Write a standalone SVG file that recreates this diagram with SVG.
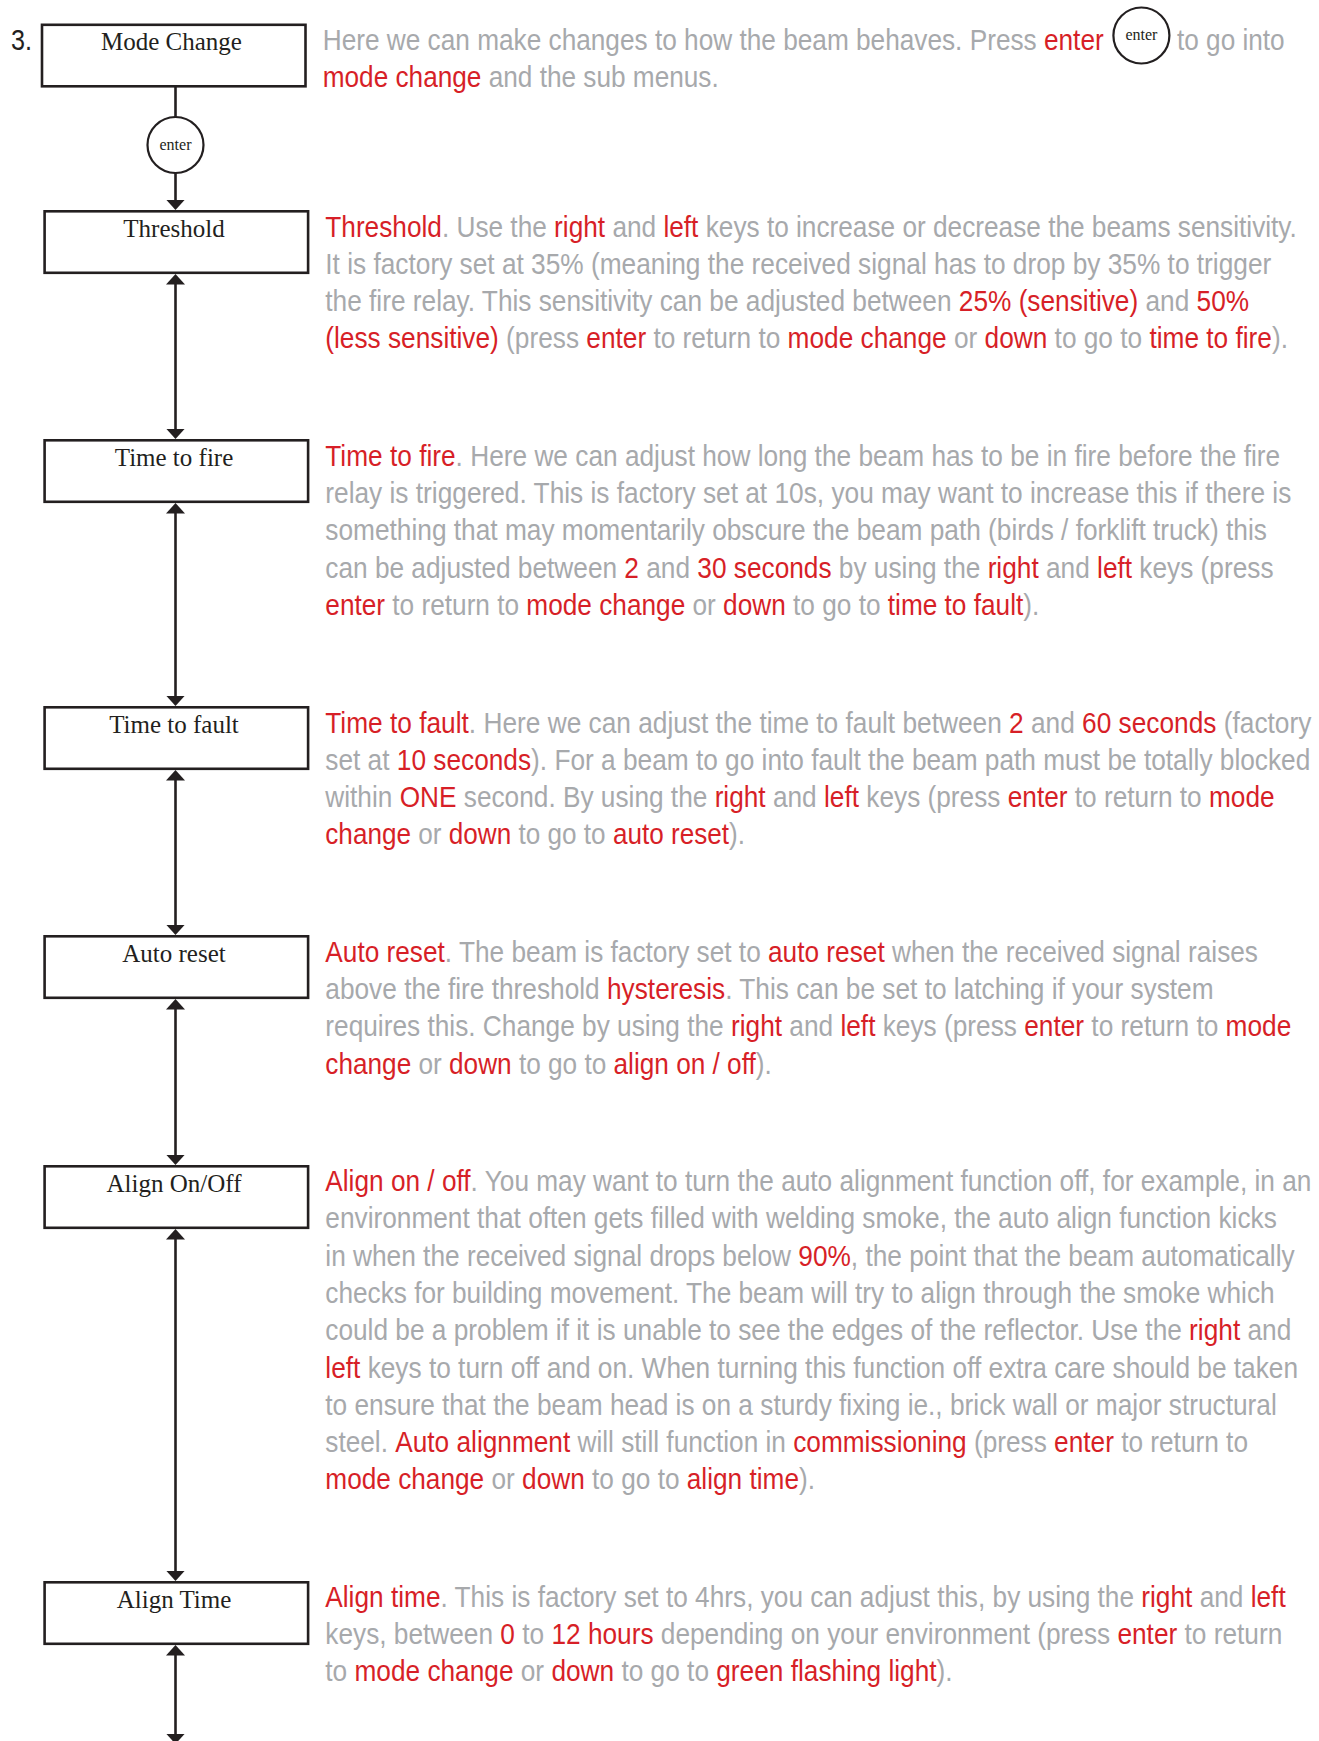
<svg xmlns="http://www.w3.org/2000/svg" width="1319" height="1741" viewBox="0 0 1319 1741">
<defs>
<style>
.box{fill:#fff;stroke:#231f20;stroke-width:2.6}
.lbl{font-family:"Liberation Serif","Times New Roman",serif;font-size:25px;fill:#231f20;text-anchor:middle}
.key{font-family:"Liberation Serif","Times New Roman",serif;font-size:16px;fill:#231f20;text-anchor:middle}
.kc{fill:#fff;stroke:#231f20;stroke-width:2.2}
.d{font-family:"Liberation Sans",Arial,sans-serif;font-size:30px;fill:#a7a9ac}
.r{fill:#d71f27}
.num{font-family:"Liberation Sans",Arial,sans-serif;font-size:30px;fill:#231f20}
.ln{stroke:#231f20;stroke-width:2.6;fill:none}
.ar{marker-end:url(#ah)}
.ar2{marker-start:url(#ah);marker-end:url(#ah)}
</style>
<marker id="ah" markerUnits="userSpaceOnUse" viewBox="0 0 10.5 19" markerWidth="10.5" markerHeight="19" refX="4.5" refY="9.5" orient="auto-start-reverse">
<path d="M0,0 L10.5,9.5 L0,19 Z" fill="#231f20"/>
</marker>
</defs>

<text class="num" transform="matrix(0.84 0 0 1 11 50)" textLength="25" lengthAdjust="spacingAndGlyphs">3.</text>

<g id="connectors">
<line class="ln" x1="175.5" y1="87" x2="175.5" y2="117"/>
<line class="ln ar" x1="175.5" y1="173" x2="175.5" y2="204"/>
<line class="ln ar2" x1="175.5" y1="280" x2="175.5" y2="433"/>
<line class="ln ar2" x1="175.5" y1="509" x2="175.5" y2="700"/>
<line class="ln ar2" x1="175.5" y1="776" x2="175.5" y2="929"/>
<line class="ln ar2" x1="175.5" y1="1005" x2="175.5" y2="1159"/>
<line class="ln ar2" x1="175.5" y1="1235" x2="175.5" y2="1575"/>
<line class="ln ar2" x1="175.5" y1="1651" x2="175.5" y2="1738"/>
<g id="enter-key">
<circle class="kc" cx="175.5" cy="145" r="28"/>
<text class="key" x="175.5" y="150">enter</text>
</g>
</g>

<g id="node-mode-change">
<rect class="box" x="42" y="24.8" width="263.5" height="61.5"/>
<text class="lbl" x="171.5" y="50">Mode Change</text>
</g>
<g id="desc-mode-change">
<text class="d" transform="matrix(0.875 0 0 1 322.7 50)" textLength="892.6" lengthAdjust="spacingAndGlyphs">Here we can make changes to how the beam behaves. Press <tspan class="r">enter</tspan></text>
<circle class="kc" cx="1141.4" cy="35.5" r="28"/>
<text class="key" x="1141.4" y="40">enter</text>
<text class="d" transform="matrix(0.875 0 0 1 1177 50)" textLength="123" lengthAdjust="spacingAndGlyphs">to go into</text>
<text class="d" transform="matrix(0.875 0 0 1 322.7 87.3)" textLength="452.6" lengthAdjust="spacingAndGlyphs"><tspan class="r">mode change</tspan> and the sub menus.</text>
</g>

<g id="node-threshold">
<rect class="box" x="44.6" y="211.3" width="263.5" height="61.5"/>
<text class="lbl" x="174" y="237">Threshold</text>
</g>
<g id="desc-threshold">
<text class="d" transform="matrix(0.875 0 0 1 325.3 236.7)" textLength="1110.3" lengthAdjust="spacingAndGlyphs"><tspan class="r">Threshold</tspan>. Use the <tspan class="r">right</tspan> and <tspan class="r">left</tspan> keys to increase or decrease the beams sensitivity.</text>
<text class="d" transform="matrix(0.875 0 0 1 325.3 273.9)" textLength="1081.1" lengthAdjust="spacingAndGlyphs">It is factory set at 35% (meaning the received signal has to drop by 35% to trigger</text>
<text class="d" transform="matrix(0.875 0 0 1 325.3 311.1)" textLength="1055.8" lengthAdjust="spacingAndGlyphs">the fire relay. This sensitivity can be adjusted between <tspan class="r">25% (sensitive)</tspan> and <tspan class="r">50%</tspan></text>
<text class="d" transform="matrix(0.875 0 0 1 325.3 348.3)" textLength="1100.2" lengthAdjust="spacingAndGlyphs"><tspan class="r">(less sensitive)</tspan> (press <tspan class="r">enter</tspan> to return to <tspan class="r">mode change</tspan> or <tspan class="r">down</tspan> to go to <tspan class="r">time to fire</tspan>).</text>
</g>

<g id="node-time-to-fire">
<rect class="box" x="44.6" y="440.3" width="263.5" height="61.5"/>
<text class="lbl" x="174" y="466">Time to fire</text>
</g>
<g id="desc-time-to-fire">
<text class="d" transform="matrix(0.875 0 0 1 325.3 466)" textLength="1091.3" lengthAdjust="spacingAndGlyphs"><tspan class="r">Time to fire</tspan>. Here we can adjust how long the beam has to be in fire before the fire</text>
<text class="d" transform="matrix(0.875 0 0 1 325.3 503.2)" textLength="1104" lengthAdjust="spacingAndGlyphs">relay is triggered. This is factory set at 10s, you may want to increase this if there is</text>
<text class="d" transform="matrix(0.875 0 0 1 325.3 540.4)" textLength="1076.1" lengthAdjust="spacingAndGlyphs">something that may momentarily obscure the beam path (birds / forklift truck) this</text>
<text class="d" transform="matrix(0.875 0 0 1 325.3 577.6)" textLength="1083.7" lengthAdjust="spacingAndGlyphs">can be adjusted between <tspan class="r">2</tspan> and <tspan class="r">30 seconds</tspan> by using the <tspan class="r">right</tspan> and <tspan class="r">left</tspan> keys (press</text>
<text class="d" transform="matrix(0.875 0 0 1 325.3 614.8)" textLength="816" lengthAdjust="spacingAndGlyphs"><tspan class="r">enter</tspan> to return to <tspan class="r">mode change</tspan> or <tspan class="r">down</tspan> to go to <tspan class="r">time to fault</tspan>).</text>
</g>

<g id="node-time-to-fault">
<rect class="box" x="44.6" y="707.3" width="263.5" height="61.5"/>
<text class="lbl" x="174" y="733">Time to fault</text>
</g>
<g id="desc-time-to-fault">
<text class="d" transform="matrix(0.875 0 0 1 325.3 732.5)" textLength="1126.9" lengthAdjust="spacingAndGlyphs"><tspan class="r">Time to fault</tspan>. Here we can adjust the time to fault between <tspan class="r">2</tspan> and <tspan class="r">60 seconds</tspan> (factory</text>
<text class="d" transform="matrix(0.875 0 0 1 325.3 769.7)" textLength="1125.7" lengthAdjust="spacingAndGlyphs">set at <tspan class="r">10 seconds</tspan>). For a beam to go into fault the beam path must be totally blocked</text>
<text class="d" transform="matrix(0.875 0 0 1 325.3 806.9)" textLength="1084.9" lengthAdjust="spacingAndGlyphs">within <tspan class="r">ONE</tspan> second. By using the <tspan class="r">right</tspan> and <tspan class="r">left</tspan> keys (press <tspan class="r">enter</tspan> to return to <tspan class="r">mode</tspan></text>
<text class="d" transform="matrix(0.875 0 0 1 325.3 844.1)" textLength="479.7" lengthAdjust="spacingAndGlyphs"><tspan class="r">change</tspan> or <tspan class="r">down</tspan> to go to <tspan class="r">auto reset</tspan>).</text>
</g>

<g id="node-auto-reset">
<rect class="box" x="44.6" y="936.3" width="263.5" height="61.5"/>
<text class="lbl" x="174" y="962">Auto reset</text>
</g>
<g id="desc-auto-reset">
<text class="d" transform="matrix(0.875 0 0 1 325.3 962)" textLength="1065.9" lengthAdjust="spacingAndGlyphs"><tspan class="r">Auto reset</tspan>. The beam is factory set to <tspan class="r">auto reset</tspan> when the received signal raises</text>
<text class="d" transform="matrix(0.875 0 0 1 325.3 999.2)" textLength="1015.2" lengthAdjust="spacingAndGlyphs">above the fire threshold <tspan class="r">hysteresis</tspan>. This can be set to latching if your system</text>
<text class="d" transform="matrix(0.875 0 0 1 325.3 1036.4)" textLength="1104" lengthAdjust="spacingAndGlyphs">requires this. Change by using the <tspan class="r">right</tspan> and <tspan class="r">left</tspan> keys (press <tspan class="r">enter</tspan> to return to <tspan class="r">mode</tspan></text>
<text class="d" transform="matrix(0.875 0 0 1 325.3 1073.6)" textLength="510.2" lengthAdjust="spacingAndGlyphs"><tspan class="r">change</tspan> or <tspan class="r">down</tspan> to go to <tspan class="r">align on / off</tspan>).</text>
</g>

<g id="node-align-on-off">
<rect class="box" x="44.6" y="1166.3" width="263.5" height="61.5"/>
<text class="lbl" x="174" y="1192">Align On/Off</text>
</g>
<g id="desc-align-on-off">
<text class="d" transform="matrix(0.875 0 0 1 325.3 1191)" textLength="1126.9" lengthAdjust="spacingAndGlyphs"><tspan class="r">Align on / off</tspan>. You may want to turn the auto alignment function off, for example, in an</text>
<text class="d" transform="matrix(0.875 0 0 1 325.3 1228.3)" textLength="1087.4" lengthAdjust="spacingAndGlyphs">environment that often gets filled with welding smoke, the auto align function kicks</text>
<text class="d" transform="matrix(0.875 0 0 1 325.3 1265.6)" textLength="1107.8" lengthAdjust="spacingAndGlyphs">in when the received signal drops below <tspan class="r">90%</tspan>, the point that the beam automatically</text>
<text class="d" transform="matrix(0.875 0 0 1 325.3 1302.9)" textLength="1084.9" lengthAdjust="spacingAndGlyphs">checks for building movement. The beam will try to align through the smoke which</text>
<text class="d" transform="matrix(0.875 0 0 1 325.3 1340.2)" textLength="1104" lengthAdjust="spacingAndGlyphs">could be a problem if it is unable to see the edges of the reflector. Use the <tspan class="r">right</tspan> and</text>
<text class="d" transform="matrix(0.875 0 0 1 325.3 1377.5)" textLength="1111.7" lengthAdjust="spacingAndGlyphs"><tspan class="r">left</tspan> keys to turn off and on. When turning this function off extra care should be taken</text>
<text class="d" transform="matrix(0.875 0 0 1 325.3 1414.8)" textLength="1087.4" lengthAdjust="spacingAndGlyphs">to ensure that the beam head is on a sturdy fixing ie., brick wall or major structural</text>
<text class="d" transform="matrix(0.875 0 0 1 325.3 1452.1)" textLength="1054.5" lengthAdjust="spacingAndGlyphs">steel. <tspan class="r">Auto alignment</tspan> will still function in <tspan class="r">commissioning</tspan> (press <tspan class="r">enter</tspan> to return to</text>
<text class="d" transform="matrix(0.875 0 0 1 325.3 1489.4)" textLength="559.7" lengthAdjust="spacingAndGlyphs"><tspan class="r">mode change</tspan> or <tspan class="r">down</tspan> to go to <tspan class="r">align time</tspan>).</text>
</g>

<g id="node-align-time">
<rect class="box" x="44.6" y="1582.3" width="263.5" height="61.5"/>
<text class="lbl" x="174" y="1608">Align Time</text>
</g>
<g id="desc-align-time">
<text class="d" transform="matrix(0.875 0 0 1 325.3 1607)" textLength="1097.6" lengthAdjust="spacingAndGlyphs"><tspan class="r">Align time</tspan>. This is factory set to 4hrs, you can adjust this, by using the <tspan class="r">right</tspan> and <tspan class="r">left</tspan></text>
<text class="d" transform="matrix(0.875 0 0 1 325.3 1644.2)" textLength="1093.7" lengthAdjust="spacingAndGlyphs">keys, between <tspan class="r">0</tspan> to <tspan class="r">12 hours</tspan> depending on your environment (press <tspan class="r">enter</tspan> to return</text>
<text class="d" transform="matrix(0.875 0 0 1 325.3 1681.4)" textLength="716.9" lengthAdjust="spacingAndGlyphs">to <tspan class="r">mode change</tspan> or <tspan class="r">down</tspan> to go to <tspan class="r">green flashing light</tspan>).</text>
</g>
</svg>
